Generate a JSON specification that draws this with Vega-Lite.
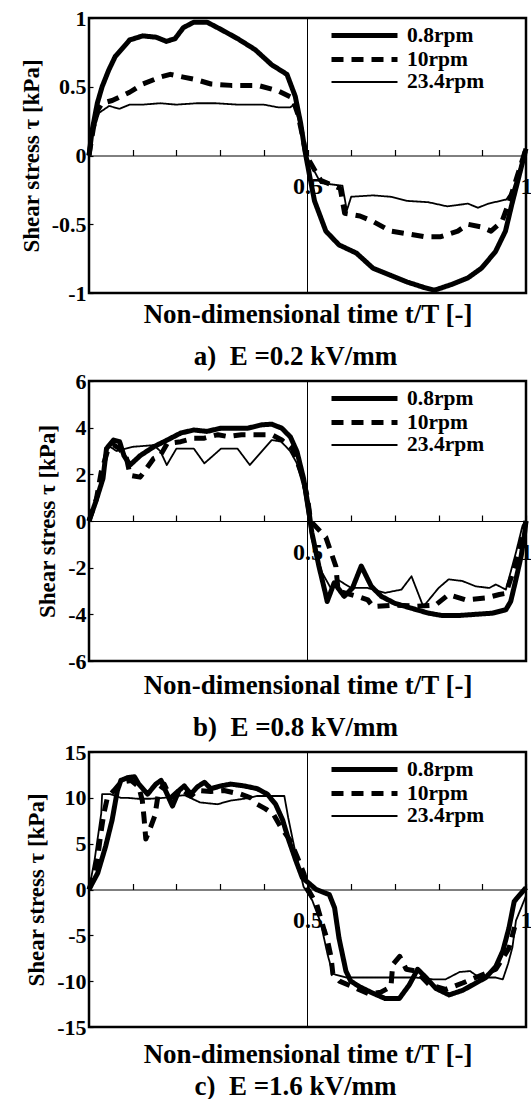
{
  "$schema": "https://vega.github.io/schema/vega-lite/v6.json",
  "padding": {"left": 18, "top": 5, "right": 0, "bottom": 0},
  "spacing": -4,
  "resolve": {"scale": {"strokeDash": "independent", "strokeWidth": "independent"}, "legend": {"strokeDash": "independent", "strokeWidth": "independent"}},
  "config": {
    "font": "Liberation Serif",
    "view": {"stroke": "black", "strokeWidth": 2.5},
    "axis": {
      "labelFont": "Liberation Serif", "labelFontWeight": "bold", "labelFontSize": 22, "labelColor": "black",
      "titleFont": "Liberation Serif", "titleFontWeight": "bold", "titleFontSize": 27, "titleColor": "black",
      "grid": false, "domainColor": "black", "tickColor": "black"
    },
    "legend": {
      "orient": "none", "legendX": 263, "legendY": 5, "title": null,
      "symbolType": "M-3.3,0H3.3", "symbolSize": 400, "labelOffset": 30,
      "labelFont": "Liberation Serif", "labelFontWeight": "bold", "labelFontSize": 21.5, "labelColor": "black",
      "rowPadding": 1, "symbolStrokeColor": "black", "symbolFillColor": "transparent", "padding": 0
    },
    "title": {"font": "Liberation Serif", "fontWeight": "bold", "fontSize": 27, "color": "black"}
  },
  "datasets": {
    "a": [
      {"s":"0.8rpm","t":0,"v":0},{"s":"0.8rpm","t":0.007,"v":0.18},{"s":"0.8rpm","t":0.019,"v":0.38},{"s":"0.8rpm","t":0.03,"v":0.5},{"s":"0.8rpm","t":0.045,"v":0.62},{"s":"0.8rpm","t":0.06,"v":0.72},{"s":"0.8rpm","t":0.093,"v":0.84},{"s":"0.8rpm","t":0.123,"v":0.87},{"s":"0.8rpm","t":0.154,"v":0.86},{"s":"0.8rpm","t":0.177,"v":0.83},{"s":"0.8rpm","t":0.197,"v":0.85},{"s":"0.8rpm","t":0.216,"v":0.93},{"s":"0.8rpm","t":0.24,"v":0.97},{"s":"0.8rpm","t":0.27,"v":0.97},{"s":"0.8rpm","t":0.3,"v":0.92},{"s":"0.8rpm","t":0.34,"v":0.85},{"s":"0.8rpm","t":0.38,"v":0.77},{"s":"0.8rpm","t":0.418,"v":0.66},{"s":"0.8rpm","t":0.453,"v":0.59},{"s":"0.8rpm","t":0.472,"v":0.43},{"s":"0.8rpm","t":0.484,"v":0.24},{"s":"0.8rpm","t":0.495,"v":0.02},{"s":"0.8rpm","t":0.505,"v":-0.15},{"s":"0.8rpm","t":0.516,"v":-0.33},{"s":"0.8rpm","t":0.542,"v":-0.55},{"s":"0.8rpm","t":0.572,"v":-0.65},{"s":"0.8rpm","t":0.612,"v":-0.71},{"s":"0.8rpm","t":0.65,"v":-0.82},{"s":"0.8rpm","t":0.689,"v":-0.87},{"s":"0.8rpm","t":0.728,"v":-0.92},{"s":"0.8rpm","t":0.767,"v":-0.96},{"s":"0.8rpm","t":0.79,"v":-0.98},{"s":"0.8rpm","t":0.828,"v":-0.94},{"s":"0.8rpm","t":0.867,"v":-0.89},{"s":"0.8rpm","t":0.898,"v":-0.82},{"s":"0.8rpm","t":0.93,"v":-0.7},{"s":"0.8rpm","t":0.953,"v":-0.55},{"s":"0.8rpm","t":0.968,"v":-0.35},{"s":"0.8rpm","t":0.984,"v":-0.15},{"s":"0.8rpm","t":1.0,"v":0.05},
      {"s":"10rpm","t":0,"v":0},{"s":"10rpm","t":0.01,"v":0.2},{"s":"10rpm","t":0.02,"v":0.33},{"s":"10rpm","t":0.03,"v":0.38},{"s":"10rpm","t":0.053,"v":0.4},{"s":"10rpm","t":0.093,"v":0.46},{"s":"10rpm","t":0.123,"v":0.52},{"s":"10rpm","t":0.163,"v":0.57},{"s":"10rpm","t":0.186,"v":0.59},{"s":"10rpm","t":0.216,"v":0.57},{"s":"10rpm","t":0.247,"v":0.55},{"s":"10rpm","t":0.279,"v":0.52},{"s":"10rpm","t":0.325,"v":0.51},{"s":"10rpm","t":0.386,"v":0.51},{"s":"10rpm","t":0.433,"v":0.47},{"s":"10rpm","t":0.465,"v":0.42},{"s":"10rpm","t":0.478,"v":0.3},{"s":"10rpm","t":0.488,"v":0.15},{"s":"10rpm","t":0.497,"v":0.0},{"s":"10rpm","t":0.53,"v":-0.18},{"s":"10rpm","t":0.575,"v":-0.24},{"s":"10rpm","t":0.585,"v":-0.42},{"s":"10rpm","t":0.62,"v":-0.44},{"s":"10rpm","t":0.65,"v":-0.48},{"s":"10rpm","t":0.69,"v":-0.55},{"s":"10rpm","t":0.73,"v":-0.57},{"s":"10rpm","t":0.767,"v":-0.59},{"s":"10rpm","t":0.805,"v":-0.59},{"s":"10rpm","t":0.844,"v":-0.55},{"s":"10rpm","t":0.867,"v":-0.5},{"s":"10rpm","t":0.898,"v":-0.52},{"s":"10rpm","t":0.92,"v":-0.55},{"s":"10rpm","t":0.945,"v":-0.48},{"s":"10rpm","t":0.96,"v":-0.35},{"s":"10rpm","t":0.98,"v":-0.15},{"s":"10rpm","t":1.0,"v":0.05},
      {"s":"23.4rpm","t":0,"v":0},{"s":"23.4rpm","t":0.008,"v":0.15},{"s":"23.4rpm","t":0.023,"v":0.31},{"s":"23.4rpm","t":0.046,"v":0.36},{"s":"23.4rpm","t":0.07,"v":0.34},{"s":"23.4rpm","t":0.093,"v":0.37},{"s":"23.4rpm","t":0.123,"v":0.37},{"s":"23.4rpm","t":0.163,"v":0.38},{"s":"23.4rpm","t":0.2,"v":0.37},{"s":"23.4rpm","t":0.247,"v":0.38},{"s":"23.4rpm","t":0.29,"v":0.38},{"s":"23.4rpm","t":0.34,"v":0.37},{"s":"23.4rpm","t":0.4,"v":0.37},{"s":"23.4rpm","t":0.433,"v":0.35},{"s":"23.4rpm","t":0.46,"v":0.35},{"s":"23.4rpm","t":0.47,"v":0.37},{"s":"23.4rpm","t":0.48,"v":0.25},{"s":"23.4rpm","t":0.49,"v":0.1},{"s":"23.4rpm","t":0.497,"v":0.0},{"s":"23.4rpm","t":0.53,"v":-0.2},{"s":"23.4rpm","t":0.58,"v":-0.22},{"s":"23.4rpm","t":0.59,"v":-0.4},{"s":"23.4rpm","t":0.6,"v":-0.3},{"s":"23.4rpm","t":0.65,"v":-0.29},{"s":"23.4rpm","t":0.69,"v":-0.3},{"s":"23.4rpm","t":0.728,"v":-0.33},{"s":"23.4rpm","t":0.777,"v":-0.34},{"s":"23.4rpm","t":0.82,"v":-0.37},{"s":"23.4rpm","t":0.867,"v":-0.35},{"s":"23.4rpm","t":0.89,"v":-0.38},{"s":"23.4rpm","t":0.914,"v":-0.35},{"s":"23.4rpm","t":0.955,"v":-0.32},{"s":"23.4rpm","t":0.97,"v":-0.25},{"s":"23.4rpm","t":0.985,"v":-0.1},{"s":"23.4rpm","t":1.0,"v":0.05}
    ],
    "b": [
      {"s":"0.8rpm","t":0,"v":0},{"s":"0.8rpm","t":0.015,"v":0.8},{"s":"0.8rpm","t":0.032,"v":1.82},{"s":"0.8rpm","t":0.04,"v":3.1},{"s":"0.8rpm","t":0.056,"v":3.47},{"s":"0.8rpm","t":0.07,"v":3.4},{"s":"0.8rpm","t":0.08,"v":2.8},{"s":"0.8rpm","t":0.094,"v":2.4},{"s":"0.8rpm","t":0.117,"v":2.8},{"s":"0.8rpm","t":0.148,"v":3.18},{"s":"0.8rpm","t":0.179,"v":3.47},{"s":"0.8rpm","t":0.21,"v":3.77},{"s":"0.8rpm","t":0.24,"v":3.9},{"s":"0.8rpm","t":0.27,"v":3.84},{"s":"0.8rpm","t":0.302,"v":3.98},{"s":"0.8rpm","t":0.333,"v":3.98},{"s":"0.8rpm","t":0.364,"v":3.98},{"s":"0.8rpm","t":0.395,"v":4.12},{"s":"0.8rpm","t":0.418,"v":4.15},{"s":"0.8rpm","t":0.441,"v":3.98},{"s":"0.8rpm","t":0.461,"v":3.6},{"s":"0.8rpm","t":0.476,"v":2.97},{"s":"0.8rpm","t":0.491,"v":1.82},{"s":"0.8rpm","t":0.502,"v":0.6},{"s":"0.8rpm","t":0.51,"v":-0.5},{"s":"0.8rpm","t":0.526,"v":-1.93},{"s":"0.8rpm","t":0.541,"v":-3.1},{"s":"0.8rpm","t":0.545,"v":-3.45},{"s":"0.8rpm","t":0.561,"v":-2.65},{"s":"0.8rpm","t":0.584,"v":-3.23},{"s":"0.8rpm","t":0.603,"v":-2.87},{"s":"0.8rpm","t":0.623,"v":-1.93},{"s":"0.8rpm","t":0.646,"v":-2.8},{"s":"0.8rpm","t":0.669,"v":-3.23},{"s":"0.8rpm","t":0.7,"v":-3.53},{"s":"0.8rpm","t":0.738,"v":-3.74},{"s":"0.8rpm","t":0.777,"v":-3.95},{"s":"0.8rpm","t":0.808,"v":-4.05},{"s":"0.8rpm","t":0.846,"v":-4.05},{"s":"0.8rpm","t":0.885,"v":-4.0},{"s":"0.8rpm","t":0.923,"v":-3.95},{"s":"0.8rpm","t":0.954,"v":-3.8},{"s":"0.8rpm","t":0.965,"v":-3.45},{"s":"0.8rpm","t":0.977,"v":-2.5},{"s":"0.8rpm","t":0.989,"v":-1.5},{"s":"0.8rpm","t":0.997,"v":-0.5},{"s":"0.8rpm","t":1.0,"v":0},
      {"s":"10rpm","t":0,"v":0},{"s":"10rpm","t":0.017,"v":0.95},{"s":"10rpm","t":0.028,"v":2.1},{"s":"10rpm","t":0.044,"v":3.1},{"s":"10rpm","t":0.056,"v":3.26},{"s":"10rpm","t":0.07,"v":3.1},{"s":"10rpm","t":0.086,"v":2.68},{"s":"10rpm","t":0.094,"v":1.96},{"s":"10rpm","t":0.117,"v":1.88},{"s":"10rpm","t":0.148,"v":2.68},{"s":"10rpm","t":0.163,"v":2.8},{"s":"10rpm","t":0.179,"v":3.33},{"s":"10rpm","t":0.21,"v":3.4},{"s":"10rpm","t":0.24,"v":3.55},{"s":"10rpm","t":0.264,"v":3.55},{"s":"10rpm","t":0.295,"v":3.7},{"s":"10rpm","t":0.318,"v":3.62},{"s":"10rpm","t":0.349,"v":3.7},{"s":"10rpm","t":0.38,"v":3.7},{"s":"10rpm","t":0.418,"v":3.7},{"s":"10rpm","t":0.441,"v":3.47},{"s":"10rpm","t":0.465,"v":3.1},{"s":"10rpm","t":0.488,"v":1.96},{"s":"10rpm","t":0.5,"v":1.0},{"s":"10rpm","t":0.507,"v":0},{"s":"10rpm","t":0.542,"v":-0.7},{"s":"10rpm","t":0.565,"v":-1.95},{"s":"10rpm","t":0.57,"v":-3.0},{"s":"10rpm","t":0.618,"v":-3.25},{"s":"10rpm","t":0.638,"v":-3.38},{"s":"10rpm","t":0.65,"v":-3.67},{"s":"10rpm","t":0.7,"v":-3.6},{"s":"10rpm","t":0.75,"v":-3.65},{"s":"10rpm","t":0.793,"v":-3.6},{"s":"10rpm","t":0.823,"v":-3.15},{"s":"10rpm","t":0.862,"v":-3.38},{"s":"10rpm","t":0.908,"v":-3.3},{"s":"10rpm","t":0.939,"v":-3.15},{"s":"10rpm","t":0.954,"v":-3.1},{"s":"10rpm","t":0.97,"v":-2.2},{"s":"10rpm","t":0.985,"v":-1.2},{"s":"10rpm","t":1.0,"v":0},
      {"s":"23.4rpm","t":0,"v":0},{"s":"23.4rpm","t":0.025,"v":1.3},{"s":"23.4rpm","t":0.04,"v":3.1},{"s":"23.4rpm","t":0.048,"v":3.18},{"s":"23.4rpm","t":0.063,"v":3.0},{"s":"23.4rpm","t":0.1,"v":3.18},{"s":"23.4rpm","t":0.148,"v":3.25},{"s":"23.4rpm","t":0.163,"v":3.0},{"s":"23.4rpm","t":0.178,"v":2.4},{"s":"23.4rpm","t":0.2,"v":3.1},{"s":"23.4rpm","t":0.24,"v":3.1},{"s":"23.4rpm","t":0.264,"v":2.47},{"s":"23.4rpm","t":0.302,"v":3.1},{"s":"23.4rpm","t":0.34,"v":3.1},{"s":"23.4rpm","t":0.356,"v":2.7},{"s":"23.4rpm","t":0.368,"v":2.4},{"s":"23.4rpm","t":0.418,"v":3.47},{"s":"23.4rpm","t":0.44,"v":3.4},{"s":"23.4rpm","t":0.46,"v":3.0},{"s":"23.4rpm","t":0.475,"v":2.5},{"s":"23.4rpm","t":0.49,"v":1.5},{"s":"23.4rpm","t":0.5,"v":0.3},{"s":"23.4rpm","t":0.51,"v":-0.8},{"s":"23.4rpm","t":0.533,"v":-2.2},{"s":"23.4rpm","t":0.553,"v":-2.87},{"s":"23.4rpm","t":0.568,"v":-2.5},{"s":"23.4rpm","t":0.6,"v":-2.87},{"s":"23.4rpm","t":0.638,"v":-2.87},{"s":"23.4rpm","t":0.677,"v":-3.08},{"s":"23.4rpm","t":0.715,"v":-2.94},{"s":"23.4rpm","t":0.738,"v":-2.37},{"s":"23.4rpm","t":0.765,"v":-3.67},{"s":"23.4rpm","t":0.8,"v":-2.87},{"s":"23.4rpm","t":0.823,"v":-2.5},{"s":"23.4rpm","t":0.854,"v":-2.57},{"s":"23.4rpm","t":0.885,"v":-2.8},{"s":"23.4rpm","t":0.916,"v":-2.87},{"s":"23.4rpm","t":0.931,"v":-2.72},{"s":"23.4rpm","t":0.954,"v":-2.94},{"s":"23.4rpm","t":0.977,"v":-1.35},{"s":"23.4rpm","t":0.992,"v":-0.2},{"s":"23.4rpm","t":1.0,"v":0}
    ],
    "c": [
      {"s":"0.8rpm","t":0,"v":0},{"s":"0.8rpm","t":0.02,"v":1.8},{"s":"0.8rpm","t":0.038,"v":4.7},{"s":"0.8rpm","t":0.053,"v":7.6},{"s":"0.8rpm","t":0.065,"v":10.8},{"s":"0.8rpm","t":0.073,"v":11.9},{"s":"0.8rpm","t":0.088,"v":12.2},{"s":"0.8rpm","t":0.104,"v":12.3},{"s":"0.8rpm","t":0.114,"v":11.5},{"s":"0.8rpm","t":0.134,"v":10.4},{"s":"0.8rpm","t":0.153,"v":11.5},{"s":"0.8rpm","t":0.165,"v":11.9},{"s":"0.8rpm","t":0.175,"v":10.8},{"s":"0.8rpm","t":0.191,"v":9.1},{"s":"0.8rpm","t":0.206,"v":10.8},{"s":"0.8rpm","t":0.218,"v":11.3},{"s":"0.8rpm","t":0.233,"v":10.4},{"s":"0.8rpm","t":0.248,"v":11.2},{"s":"0.8rpm","t":0.264,"v":11.7},{"s":"0.8rpm","t":0.279,"v":11.0},{"s":"0.8rpm","t":0.302,"v":11.3},{"s":"0.8rpm","t":0.324,"v":11.5},{"s":"0.8rpm","t":0.355,"v":11.3},{"s":"0.8rpm","t":0.385,"v":11.0},{"s":"0.8rpm","t":0.408,"v":10.4},{"s":"0.8rpm","t":0.427,"v":9.3},{"s":"0.8rpm","t":0.443,"v":7.6},{"s":"0.8rpm","t":0.457,"v":5.4},{"s":"0.8rpm","t":0.473,"v":3.2},{"s":"0.8rpm","t":0.488,"v":1.3},{"s":"0.8rpm","t":0.52,"v":0.0},{"s":"0.8rpm","t":0.55,"v":-0.56},{"s":"0.8rpm","t":0.562,"v":-2.0},{"s":"0.8rpm","t":0.572,"v":-5.3},{"s":"0.8rpm","t":0.588,"v":-8.9},{"s":"0.8rpm","t":0.599,"v":-10.0},{"s":"0.8rpm","t":0.619,"v":-10.6},{"s":"0.8rpm","t":0.649,"v":-11.3},{"s":"0.8rpm","t":0.678,"v":-11.9},{"s":"0.8rpm","t":0.71,"v":-11.9},{"s":"0.8rpm","t":0.733,"v":-10.4},{"s":"0.8rpm","t":0.752,"v":-8.7},{"s":"0.8rpm","t":0.771,"v":-9.6},{"s":"0.8rpm","t":0.794,"v":-10.8},{"s":"0.8rpm","t":0.824,"v":-11.5},{"s":"0.8rpm","t":0.855,"v":-11.0},{"s":"0.8rpm","t":0.878,"v":-10.4},{"s":"0.8rpm","t":0.908,"v":-9.6},{"s":"0.8rpm","t":0.931,"v":-8.4},{"s":"0.8rpm","t":0.947,"v":-6.7},{"s":"0.8rpm","t":0.961,"v":-4.2},{"s":"0.8rpm","t":0.973,"v":-1.3},{"s":"0.8rpm","t":1.0,"v":0.2},
      {"s":"10rpm","t":0,"v":0},{"s":"10rpm","t":0.012,"v":1.7},{"s":"10rpm","t":0.02,"v":3.5},{"s":"10rpm","t":0.027,"v":6.1},{"s":"10rpm","t":0.034,"v":8.3},{"s":"10rpm","t":0.042,"v":10.0},{"s":"10rpm","t":0.057,"v":10.8},{"s":"10rpm","t":0.073,"v":11.7},{"s":"10rpm","t":0.096,"v":11.9},{"s":"10rpm","t":0.114,"v":11.2},{"s":"10rpm","t":0.122,"v":9.7},{"s":"10rpm","t":0.126,"v":7.8},{"s":"10rpm","t":0.13,"v":5.5},{"s":"10rpm","t":0.141,"v":6.8},{"s":"10rpm","t":0.151,"v":8.1},{"s":"10rpm","t":0.159,"v":10.6},{"s":"10rpm","t":0.172,"v":11.5},{"s":"10rpm","t":0.187,"v":10.0},{"s":"10rpm","t":0.21,"v":11.0},{"s":"10rpm","t":0.233,"v":10.2},{"s":"10rpm","t":0.248,"v":10.8},{"s":"10rpm","t":0.279,"v":10.7},{"s":"10rpm","t":0.309,"v":10.8},{"s":"10rpm","t":0.347,"v":10.4},{"s":"10rpm","t":0.37,"v":10.0},{"s":"10rpm","t":0.385,"v":9.3},{"s":"10rpm","t":0.404,"v":8.8},{"s":"10rpm","t":0.422,"v":8.2},{"s":"10rpm","t":0.439,"v":6.8},{"s":"10rpm","t":0.461,"v":5.3},{"s":"10rpm","t":0.477,"v":3.5},{"s":"10rpm","t":0.492,"v":1.7},{"s":"10rpm","t":0.5,"v":0.1},{"s":"10rpm","t":0.521,"v":-1.6},{"s":"10rpm","t":0.53,"v":-3.1},{"s":"10rpm","t":0.538,"v":-4.4},{"s":"10rpm","t":0.546,"v":-5.6},{"s":"10rpm","t":0.554,"v":-7.4},{"s":"10rpm","t":0.558,"v":-9.2},{"s":"10rpm","t":0.573,"v":-10.0},{"s":"10rpm","t":0.603,"v":-10.6},{"s":"10rpm","t":0.641,"v":-11.4},{"s":"10rpm","t":0.668,"v":-11.2},{"s":"10rpm","t":0.691,"v":-10.6},{"s":"10rpm","t":0.695,"v":-8.2},{"s":"10rpm","t":0.711,"v":-7.3},{"s":"10rpm","t":0.726,"v":-8.7},{"s":"10rpm","t":0.748,"v":-8.9},{"s":"10rpm","t":0.779,"v":-10.4},{"s":"10rpm","t":0.816,"v":-10.9},{"s":"10rpm","t":0.855,"v":-10.2},{"s":"10rpm","t":0.885,"v":-9.6},{"s":"10rpm","t":0.931,"v":-8.7},{"s":"10rpm","t":0.961,"v":-6.4},{"s":"10rpm","t":0.974,"v":-4.1},
      {"s":"23.4rpm","t":0,"v":0},{"s":"23.4rpm","t":0.013,"v":3.3},{"s":"23.4rpm","t":0.028,"v":8.3},{"s":"23.4rpm","t":0.03,"v":10.4},{"s":"23.4rpm","t":0.049,"v":10.4},{"s":"23.4rpm","t":0.073,"v":10.0},{"s":"23.4rpm","t":0.088,"v":10.0},{"s":"23.4rpm","t":0.111,"v":9.9},{"s":"23.4rpm","t":0.141,"v":9.9},{"s":"23.4rpm","t":0.172,"v":10.0},{"s":"23.4rpm","t":0.218,"v":10.3},{"s":"23.4rpm","t":0.254,"v":9.5},{"s":"23.4rpm","t":0.294,"v":9.3},{"s":"23.4rpm","t":0.324,"v":9.7},{"s":"23.4rpm","t":0.355,"v":9.9},{"s":"23.4rpm","t":0.385,"v":10.2},{"s":"23.4rpm","t":0.416,"v":10.2},{"s":"23.4rpm","t":0.447,"v":10.2},{"s":"23.4rpm","t":0.456,"v":7.8},{"s":"23.4rpm","t":0.469,"v":4.8},{"s":"23.4rpm","t":0.481,"v":2.3},{"s":"23.4rpm","t":0.491,"v":0.3},{"s":"23.4rpm","t":0.511,"v":-1.2},{"s":"23.4rpm","t":0.53,"v":-3.6},{"s":"23.4rpm","t":0.546,"v":-7.1},{"s":"23.4rpm","t":0.558,"v":-9.2},{"s":"23.4rpm","t":0.588,"v":-9.6},{"s":"23.4rpm","t":0.688,"v":-9.6},{"s":"23.4rpm","t":0.747,"v":-9.6},{"s":"23.4rpm","t":0.787,"v":-9.8},{"s":"23.4rpm","t":0.816,"v":-9.8},{"s":"23.4rpm","t":0.848,"v":-9.0},{"s":"23.4rpm","t":0.872,"v":-8.9},{"s":"23.4rpm","t":0.893,"v":-9.6},{"s":"23.4rpm","t":0.931,"v":-9.6},{"s":"23.4rpm","t":0.947,"v":-9.8},{"s":"23.4rpm","t":0.959,"v":-8.1},{"s":"23.4rpm","t":0.969,"v":-6.3},{"s":"23.4rpm","t":0.977,"v":-3.4},{"s":"23.4rpm","t":1.0,"v":-0.7}
    ]
  },
  "vconcat": [
    {
      "width": 437, "height": 275,
      "title": {"text": "a)\u00a0\u00a0E =0.2 kV/mm", "orient": "bottom", "anchor": "middle", "offset": 17, "dx": -12},
      "layer": [
        {
          "data": {"name": "a"},
          "mark": {"type": "line", "color": "black", "strokeCap": "butt", "strokeJoin": "round"},
          "encoding": {
            "x": {"field": "t", "type": "quantitative", "scale": {"domain": [0, 1], "nice": false},
                  "axis": {"orient": "bottom", "offset": -137.5, "values": [0,0.1,0.2,0.3,0.4,0.5,0.6,0.7,0.8,0.9,1], "ticks": true, "tickSize": -6, "tickWidth": 1.2, "domainWidth": 1, "labelExpr": "datum.value == 0.5 ? '0.5' : datum.value == 1 ? '1' : ''", "labelPadding": 25, "labelFontSize": 24, "labelDx": -2, "labelFlush": false, "title": null}},
            "y": {"field": "v", "type": "quantitative", "scale": {"domain": [-1, 1], "nice": false},
                  "axis": {"values": [-1,-0.5,0,0.5,1], "labelExpr": "datum.value == 1 ? '1' : datum.value == 0.5 ? '0.5' : datum.value == 0 ? '0' : datum.value == -0.5 ? '-0.5' : '-1'", "labelAlign": "right", "labelFlush": false, "labelOverlap": false, "title": "Shear stress τ [kPa]", "titleFontSize": 23, "ticks": true, "tickSize": -4, "tickWidth": 1.2, "domain": false, "labelPadding": 7, "titlePadding": 8}},
            "strokeDash": {"field": "s", "type": "nominal", "scale": {"domain": ["0.8rpm","10rpm","23.4rpm"], "range": [[1,0],[12,8],[1,0]]}},
            "strokeWidth": {"field": "s", "type": "nominal", "scale": {"type": "ordinal", "domain": ["0.8rpm","10rpm","23.4rpm"], "range": [5,5,1.8]}}
          }
        },
        {
          "data": {"values": [{"t": 0.5}]},
          "mark": {"type": "rule", "color": "black", "strokeWidth": 1},
          "encoding": {"x": {"field": "t", "type": "quantitative", "scale": {"domain": [0, 1], "nice": false},
                             "axis": {"orient": "bottom", "ticks": false, "labels": false, "domain": false, "title": "Non-dimensional time t/T [-]", "titlePadding": 8}}}
        }
      ],
      "resolve": {"axis": {"x": "independent"}}
    },
    {
      "width": 437, "height": 280,
      "title": {"text": "b)\u00a0\u00a0E =0.8 kV/mm", "orient": "bottom", "anchor": "middle", "offset": 17, "dx": -12},
      "layer": [
        {
          "data": {"name": "b"},
          "mark": {"type": "line", "color": "black", "strokeCap": "butt", "strokeJoin": "round"},
          "encoding": {
            "x": {"field": "t", "type": "quantitative", "scale": {"domain": [0, 1], "nice": false},
                  "axis": {"orient": "bottom", "offset": -140, "values": [0,0.1,0.2,0.3,0.4,0.5,0.6,0.7,0.8,0.9,1], "ticks": true, "tickSize": -6, "tickWidth": 1.2, "domainWidth": 1, "labelExpr": "datum.value == 0.5 ? '0.5' : datum.value == 1 ? '1' : ''", "labelPadding": 25, "labelFontSize": 24, "labelDx": -2, "labelFlush": false, "title": null}},
            "y": {"field": "v", "type": "quantitative", "scale": {"domain": [-6, 6], "nice": false},
                  "axis": {"values": [-6,-4,-2,0,2,4,6], "labelExpr": "datum.value < 0 ? '-' + abs(datum.value) : '' + datum.value", "labelAlign": "right", "labelFlush": false, "labelOverlap": false, "title": "Shear stress τ [kPa]", "titleFontSize": 23, "ticks": true, "tickSize": -4, "tickWidth": 1.2, "domain": false, "labelPadding": 7, "titlePadding": 8}},
            "strokeDash": {"field": "s", "type": "nominal", "scale": {"domain": ["0.8rpm","10rpm","23.4rpm"], "range": [[1,0],[12,8],[1,0]]}},
            "strokeWidth": {"field": "s", "type": "nominal", "scale": {"type": "ordinal", "domain": ["0.8rpm","10rpm","23.4rpm"], "range": [5,5,1.8]}}
          }
        },
        {
          "data": {"values": [{"t": 0.5}]},
          "mark": {"type": "rule", "color": "black", "strokeWidth": 1},
          "encoding": {"x": {"field": "t", "type": "quantitative", "scale": {"domain": [0, 1], "nice": false},
                             "axis": {"orient": "bottom", "ticks": false, "labels": false, "domain": false, "title": "Non-dimensional time t/T [-]", "titlePadding": 11}}}
        }
      ],
      "resolve": {"axis": {"x": "independent"}}
    },
    {
      "width": 437, "height": 275,
      "title": {"text": "c)\u00a0\u00a0E =1.6 kV/mm", "orient": "bottom", "anchor": "middle", "offset": 7, "dx": -12},
      "layer": [
        {
          "data": {"name": "c"},
          "mark": {"type": "line", "color": "black", "strokeCap": "butt", "strokeJoin": "round"},
          "encoding": {
            "x": {"field": "t", "type": "quantitative", "scale": {"domain": [0, 1], "nice": false},
                  "axis": {"orient": "bottom", "offset": -137.5, "values": [0,0.1,0.2,0.3,0.4,0.5,0.6,0.7,0.8,0.9,1], "ticks": true, "tickSize": -6, "tickWidth": 1.2, "domainWidth": 1, "labelExpr": "datum.value == 0.5 ? '0.5' : datum.value == 1 ? '1' : ''", "labelPadding": 25, "labelFontSize": 24, "labelDx": -2, "labelFlush": false, "title": null}},
            "y": {"field": "v", "type": "quantitative", "scale": {"domain": [-15, 15], "nice": false},
                  "axis": {"values": [-15,-10,-5,0,5,10,15], "labelExpr": "datum.value < 0 ? '-' + abs(datum.value) : '' + datum.value", "labelAlign": "right", "labelFlush": false, "labelOverlap": false, "title": "Shear stress τ [kPa]", "titleFontSize": 23, "ticks": true, "tickSize": -4, "tickWidth": 1.2, "domain": false, "labelPadding": 7, "titlePadding": 8}},
            "strokeDash": {"field": "s", "type": "nominal", "scale": {"domain": ["0.8rpm","10rpm","23.4rpm"], "range": [[1,0],[12,8],[1,0]]}},
            "strokeWidth": {"field": "s", "type": "nominal", "scale": {"type": "ordinal", "domain": ["0.8rpm","10rpm","23.4rpm"], "range": [5,5,1.8]}}
          }
        },
        {
          "data": {"values": [{"t": 0.5}]},
          "mark": {"type": "rule", "color": "black", "strokeWidth": 1},
          "encoding": {"x": {"field": "t", "type": "quantitative", "scale": {"domain": [0, 1], "nice": false},
                             "axis": {"orient": "bottom", "ticks": false, "labels": false, "domain": false, "title": "Non-dimensional time t/T [-]", "titlePadding": 14}}}
        }
      ],
      "resolve": {"axis": {"x": "independent"}}
    }
  ]
}
